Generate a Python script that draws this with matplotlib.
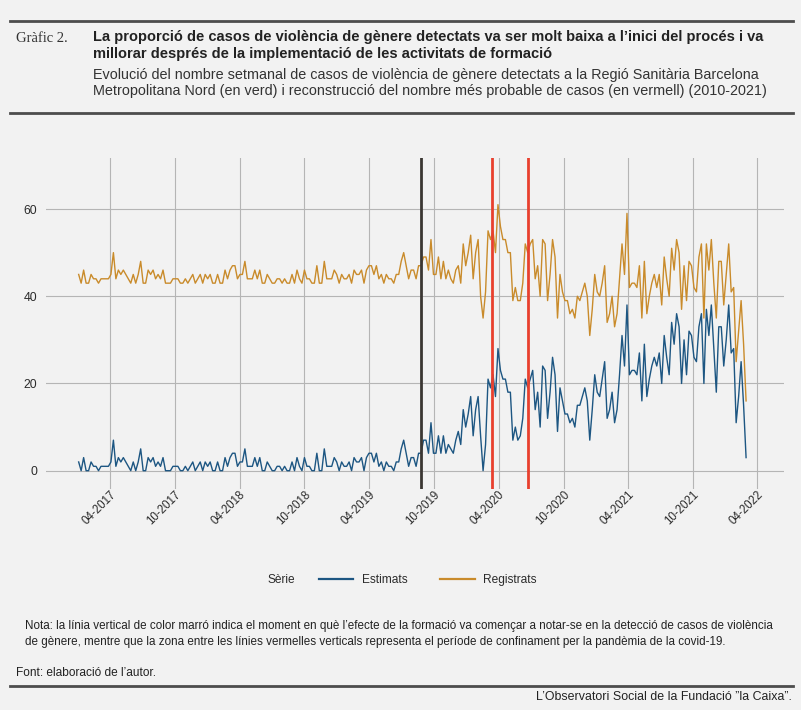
import matplotlib
matplotlib.use('Agg')
import matplotlib.pyplot as plt
import pandas as pd
from matplotlib.lines import Line2D

# ---------------- data ----------------
start_date = '2017-01-02'   # first weekly observation
estimats = [
    2,0,3,0,0,2,1,1,0,1,1,1,1,2,7,1,3,2,3,2,1,0,2,0,2,5,0,0,3,2,3,1,2,1,3,0,0,0,1,1,1,0,0,1,0,1,2,0,1,2,0,2,1,2,
    0,0,2,0,0,3,1,3,4,4,1,2,2,5,1,1,1,3,1,3,0,0,2,1,0,0,1,1,0,1,0,0,2,0,3,1,0,3,1,1,0,0,4,0,0,5,1,1,1,3,2,0,2,
    1,1,2,0,3,2,2,3,0,3,4,4,2,4,1,2,0,2,1,1,0,2,2,5,7,4,1,3,3,1,4,
    4,7,7,4,11,4,4,8,4,8,4,6,5,4,7,9,6,14,10,13,17,8,14,17,
    8,0,6,21,19,22,17,28,23,21,21,18,18,7,10,7,8,12,21,19,21,23,14,18,10,24,23,12,18,26,22,9,19,16,13,13,11,12,10,15,
    15,17,19,16,7,14,22,18,17,21,25,12,14,18,
    11,14,22,31,24,38,22,23,23,22,27,16,29,17,21,24,26,24,27,20,31,26,22,34,29,36,33,20,30,22,32,31,26,25,33,36,20,37,
    31,38,28,18,33,33,24,30,38,27,28,11,17,25,15,3,
]
registrats = [
    45,43,46,43,43,45,44,44,43,44,44,44,44,45,50,44,46,45,46,45,44,43,45,43,45,48,43,43,46,45,46,44,45,44,46,43,43,43,
    44,44,44,43,43,44,43,44,45,43,44,45,43,45,44,45,
    43,43,45,43,43,46,44,46,47,47,44,45,45,48,44,44,44,46,44,46,43,43,45,44,43,43,44,44,43,44,43,43,45,43,46,44,43,46,
    44,44,43,43,47,43,43,48,44,44,44,46,45,43,45,
    44,44,45,43,46,45,45,46,43,46,47,47,45,47,44,45,43,45,44,44,43,45,45,48,50,47,44,46,46,44,47,
    47,49,49,46,53,45,45,49,44,48,44,46,44,43,46,47,43,52,47,50,54,44,50,53,
    40,35,41,55,53,55,50,61,56,53,53,50,50,39,42,39,39,43,52,50,52,53,44,47,40,53,52,39,45,53,49,35,45,41,39,39,36,37,
    35,40,39,41,43,40,31,37,45,41,40,43,47,34,36,40,
    33,36,44,52,45,59,42,43,43,42,47,35,48,36,40,43,45,42,45,38,49,44,40,51,46,53,50,37,47,39,48,47,42,41,49,52,35,52,
    46,53,43,35,48,48,38,45,52,41,42,25,32,39,29,16,
]
series_names = ['Estimats', 'Registrats']
tick_labels = ['04-2017', '10-2017', '04-2018', '10-2018', '04-2019', '10-2019',
               '04-2020', '10-2020', '04-2021', '10-2021', '04-2022']
y_ticks = [0, 20, 40, 60]
training_date = '2019-08-26'
lockdown_dates = ['2020-03-14', '2020-06-24']

# ---------------- style ----------------
BG = '#f2f2f2'
C_EST = '#1d5682'
C_REG = '#c98b2b'
C_GRID = '#b5b5b5'
C_TEXT = '#2b2b2b'
plt.rcParams['font.family'] = ['Liberation Sans', 'DejaVu Sans']
SANS = ['Liberation Sans', 'DejaVu Sans']

W, H = 801, 710
def fx(x):
    return x / W
def fy(y):
    return 1 - y / H

fig = plt.figure(figsize=(W / 100, H / 100), dpi=100, facecolor=BG)
ax = fig.add_axes([fx(45.7), fy(489), (784 - 45.7) / W, (489 - 158) / H])
ax.set_facecolor(BG)

dates = pd.date_range(start_date, periods=len(estimats), freq='7D')
tick_pos = [pd.to_datetime('01-' + t, format='%d-%m-%Y') for t in tick_labels]

ax.plot(dates, estimats, color=C_EST, lw=1.0, zorder=3)
ax.plot(dates, registrats, color=C_REG, lw=1.0, zorder=3)

ax.axvline(pd.Timestamp(training_date), color='#3b3733', lw=2.0, zorder=4)
for d in lockdown_dates:
    ax.axvline(pd.Timestamp(d), color='#e8402e', lw=2.0, zorder=4)

ax.set_xlim(pd.Timestamp('2016-10-01'), pd.Timestamp('2022-06-15'))
ax.set_ylim(-4.2, 71.7)
ax.set_xticks(tick_pos)
ax.set_xticklabels(tick_labels, rotation=45, ha='right', rotation_mode='anchor',
                   fontsize=8.3, color=C_TEXT)
ax.set_yticks(y_ticks)
ax.set_yticklabels([str(v) for v in y_ticks], fontsize=8.8, color=C_TEXT)
ax.tick_params(length=0, pad=6)
ax.tick_params(axis='x', pad=0)
ax.grid(True, color=C_GRID, lw=0.8, zorder=0)
for s in ax.spines.values():
    s.set_visible(False)

# ---------------- legend ----------------
fig.text(fx(281), fy(580), 'Sèrie', fontsize=8.6, color=C_TEXT, ha='center', va='center')
handles = [Line2D([], [], color=C_EST, lw=1.6), Line2D([], [], color=C_REG, lw=1.6)]
fig.legend(handles, series_names, loc='center left', bbox_to_anchor=(fx(319), fy(580)),
           ncol=2, frameon=False, fontsize=8.6, handlelength=2.85, handletextpad=0.75,
           columnspacing=2.75, labelcolor=C_TEXT, borderaxespad=0, borderpad=0)

# ---------------- header ----------------
rule_kw = dict(color='#4d4d4d', lw=2.0)
fig.add_artist(Line2D([fx(10), fx(793)], [fy(20.5), fy(20.5)], **rule_kw))
fig.add_artist(Line2D([fx(10), fx(793)], [fy(112.5), fy(112.5)], **rule_kw))
fig.add_artist(Line2D([fx(10), fx(793)], [fy(686), fy(686)], **rule_kw))

fig.text(fx(16), fy(39), 'Gràfic 2.', family=['Liberation Serif', 'DejaVu Serif'],
         fontsize=10.5, color='#333333', va='center', ha='left')
fig.text(fx(93), fy(45.5), "La proporció de casos de violència de gènere detectats va ser molt baixa a l’inici del procés i va\n"
         "millorar després de la implementació de les activitats de formació",
         family=SANS, fontsize=10.5, fontweight='bold', color='#222222', va='center', ha='left',
         linespacing=1.2)
fig.text(fx(93), fy(83), "Evolució del nombre setmanal de casos de violència de gènere detectats a la Regió Sanitària Barcelona\n"
         "Metropolitana Nord (en verd) i reconstrucció del nombre més probable de casos (en vermell) (2010-2021)",
         family=SANS, fontsize=10.35, color='#333333', va='center', ha='left', linespacing=1.27)

# ---------------- footer ----------------
fig.text(fx(25), fy(634), "Nota: la línia vertical de color marró indica el moment en què l’efecte de la formació va començar a notar-se en la detecció de casos de violència\n"
         "de gènere, mentre que la zona entre les línies vermelles verticals representa el període de confinament per la pandèmia de la covid-19.",
         family=SANS, fontsize=8.4, color='#222222', va='center', ha='left', linespacing=1.37)
fig.text(fx(16), fy(673), "Font: elaboració de l’autor.", family=SANS, fontsize=8.6,
         color='#222222', va='center', ha='left')
fig.text(fx(792), fy(697), "L’Observatori Social de la Fundació ”la Caixa”.", family=SANS, fontsize=8.9,
         color='#222222', va='center', ha='right')

fig.savefig('out.png', dpi=100, facecolor=BG)
